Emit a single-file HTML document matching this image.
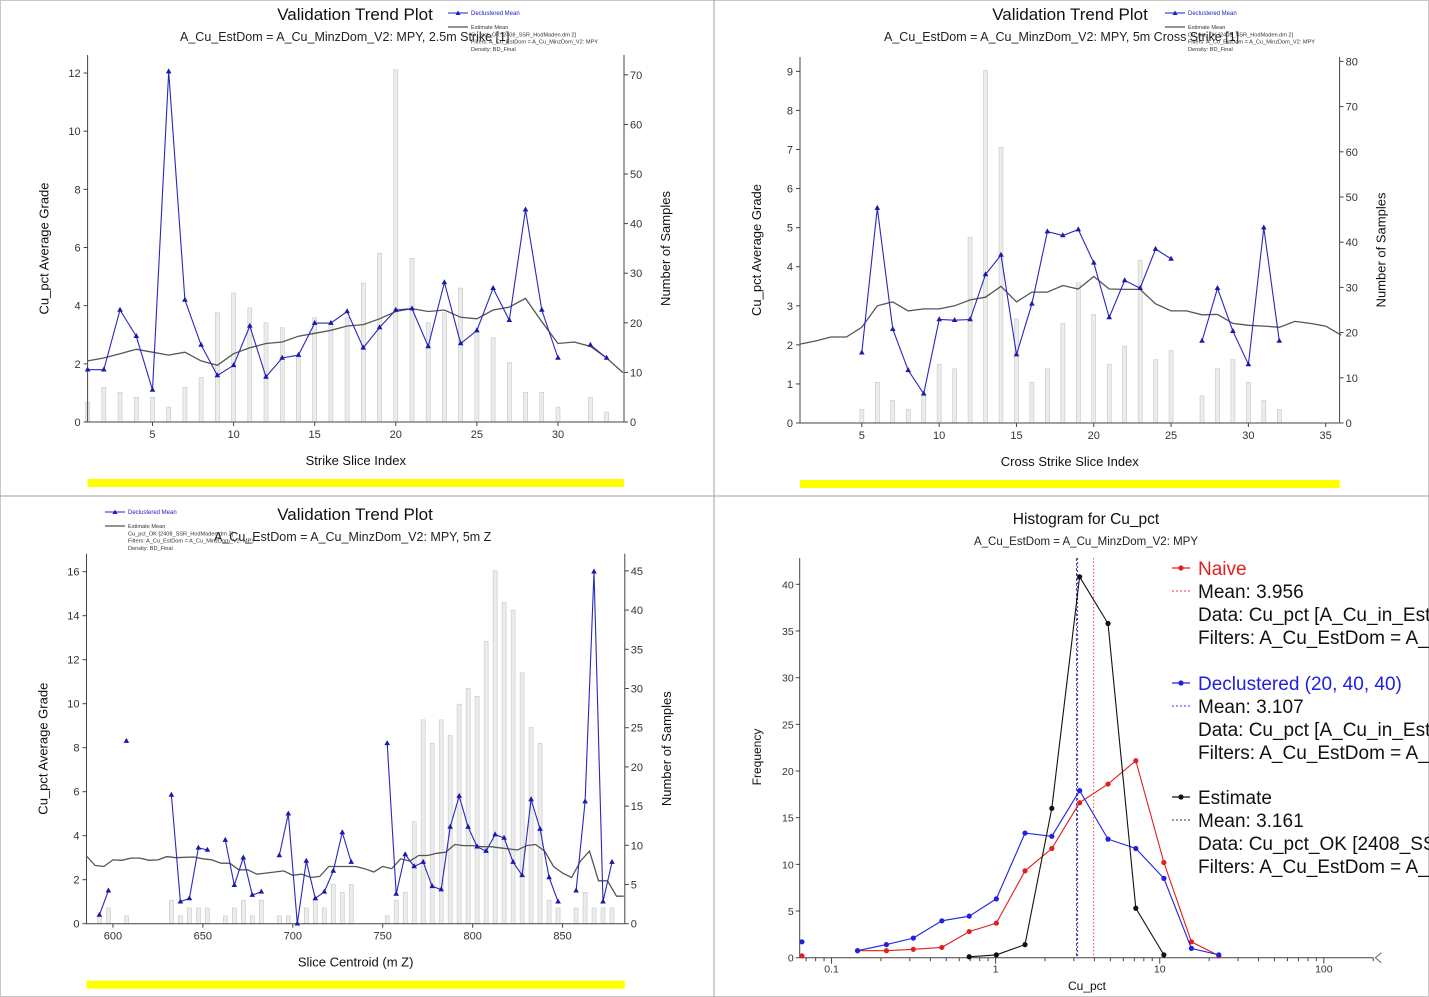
<!DOCTYPE html>
<html><head><meta charset="utf-8"><style>
html,body{margin:0;padding:0;background:#fff;}
svg{display:block;font-family:"Liberation Sans",sans-serif;}
</style></head><body>
<svg id="root" width="1429" height="997" viewBox="0 0 1429 997" xmlns="http://www.w3.org/2000/svg">
<rect x="0.5" y="0.5" width="1428" height="996" fill="#fff" stroke="#c8c8c8"/>
<line x1="714" y1="0" x2="714" y2="997" stroke="#a0a0a0"/>
<line x1="0" y1="496" x2="1429" y2="496" stroke="#a0a0a0"/>
<g id="p1"></g>
<g id="p2"></g>
<g id="p3"></g>
<g id="p4"></g>
</svg>
<script>
// ---- Panel 1: Strike ----
const p1Index=[1,2,3,4,5,6,7,8,9,10,11,12,13,14,15,16,17,18,19,20,21,22,23,24,25,26,27,28,29,30,31,32,33];
const p1Declus=[1.8,1.8,3.85,2.95,1.1,12.05,4.2,2.65,1.6,1.95,3.3,1.55,2.2,2.3,3.4,3.4,3.8,2.55,3.25,3.85,3.9,2.6,4.8,2.7,3.15,4.6,3.5,7.3,3.85,2.2,null,2.65,2.2];
const p1Counts=[4,7,6,5,5,3,7,9,22,26,23,20,19,13,21,20,21,28,34,71,33,20,22,27,18,17,12,6,6,3,0,5,2];
const p1EstIndex=[1,2,3,4,5,6,7,8,9,10,11,12,13,14,15,16,17,18,19,20,21,22,23,24,25,26,27,28,29,30,31,32,33,34];
const p1Est=[2.1,2.2,2.35,2.5,2.4,2.3,2.4,2.1,1.95,2.35,2.55,2.7,2.75,2.95,3.05,3.15,3.3,3.35,3.55,3.8,3.9,3.8,3.85,3.6,3.55,3.85,3.95,4.25,3.45,2.7,2.75,2.6,2.2,1.7];
const p1XTicks=[5,10,15,20,25,30];
const p1LTicks=[0,2,4,6,8,10,12];
const p1RTicks=[0,10,20,30,40,50,60,70];
// ---- Panel 2: Cross strike ----
const p2Index=[5,6,7,8,9,10,11,12,13,14,15,16,17,18,19,20,21,22,23,24,25,26,27,28,29,30,31,32];
const p2Declus=[1.8,5.5,2.4,1.35,0.75,2.65,2.63,2.65,3.8,4.3,1.75,3.05,4.9,4.8,4.95,4.1,2.7,3.65,3.45,4.45,4.2,null,2.1,3.45,2.35,1.5,5.0,2.1];
const p2Counts=[3,9,5,3,6,13,12,41,78,61,23,9,12,22,31,24,13,17,36,14,16,0,6,12,14,9,5,3];
const p2EstIndex=[1,2,3,4,5,6,7,8,9,10,11,12,13,14,15,16,17,18,19,20,21,22,23,24,25,26,27,28,29,30,31,32,33,34,35,36];
const p2Est=[2.02,2.1,2.2,2.2,2.45,3.0,3.1,2.87,2.92,2.92,3.0,3.15,3.22,3.5,3.1,3.35,3.35,3.52,3.43,3.75,3.43,3.42,3.42,3.05,2.87,2.87,2.77,2.78,2.55,2.5,2.48,2.45,2.6,2.55,2.48,2.25];
const p2XTicks=[5,10,15,20,25,30,35];
const p2LTicks=[0,1,2,3,4,5,6,7,8,9];
const p2RTicks=[0,10,20,30,40,50,60,70,80];
// ---- Panel 3: Z ----
const p3Z=[592.5,597.5,602.5,607.5,612.5,617.5,622.5,627.5,632.5,637.5,642.5,647.5,652.5,657.5,662.5,667.5,672.5,677.5,682.5,687.5,692.5,697.5,702.5,707.5,712.5,717.5,722.5,727.5,732.5,737.5,742.5,747.5,752.5,757.5,762.5,767.5,772.5,777.5,782.5,787.5,792.5,797.5,802.5,807.5,812.5,817.5,822.5,827.5,832.5,837.5,842.5,847.5,852.5,857.5,862.5,867.5,872.5,877.5];
const p3Declus=[0.4,1.5,null,8.3,null,null,null,null,5.85,1.0,1.15,3.45,3.35,null,3.8,1.75,3.0,1.3,1.45,null,3.1,5.0,0.0,2.85,1.15,1.45,2.4,4.15,2.8,null,null,null,8.2,1.35,3.15,2.6,2.8,1.7,1.55,4.4,5.8,4.4,3.5,3.3,4.05,3.9,2.8,2.2,5.65,4.3,2.1,1.0,null,1.5,5.55,16.0,1.0,2.8];
const p3Counts=[1,2,0,1,0,0,0,0,3,1,2,2,2,0,1,2,3,1,3,0,1,1,0,2,3,2,5,4,5,0,0,0,1,3,4,13,26,23,26,24,28,30,29,36,45,41,40,32,25,23,3,2,0,2,4,2,2,2];
const p3EstZ=[585,590,595,600,605,610,615,620,625,630,635,640,645,650,655,660,665,670,675,680,685,690,695,700,705,710,715,720,725,730,735,740,745,750,755,760,765,770,775,780,785,790,795,800,805,810,815,820,825,830,835,840,845,850,855,860,865,870,875,880,884];
const p3Est=[3.1,2.65,2.6,2.9,2.88,2.98,2.98,2.88,2.9,3.05,3.0,3.02,3.03,2.95,2.9,2.75,2.75,2.45,2.45,2.25,2.3,2.35,2.4,2.2,2.25,2.1,2.15,2.6,2.6,2.6,2.6,2.5,2.35,2.6,2.5,2.95,2.85,3.1,3.1,3.2,3.25,3.6,3.55,3.55,3.5,3.5,3.45,3.4,3.35,3.55,3.6,3.3,2.6,2.3,2.1,2.85,3.3,1.95,1.95,1.25,1.25];
const p3XTicks=[600,650,700,750,800,850];
const p3LTicks=[0,2,4,6,8,10,12,14,16];
const p3RTicks=[0,5,10,15,20,25,30,35,40,45];
// ---- Panel 4: Histogram ----
const hBins=[0.066,0.097,0.144,0.216,0.315,0.47,0.69,1.01,1.51,2.2,3.25,4.84,7.15,10.6,15.6,22.9];
const hNaive=[0.2,null,0.75,0.75,0.9,1.1,2.8,3.7,9.3,11.7,16.6,18.6,21.1,10.2,1.7,0.2];
const hDeclus=[1.7,null,0.75,1.4,2.1,3.95,4.45,6.3,13.35,13.0,17.9,12.7,11.7,8.5,1.0,0.3];
const hEstimate=[null,null,null,null,null,null,0.1,0.3,1.4,16.0,40.8,35.8,5.3,0.3,null,null];
const hMeans=[3.956,3.107,3.161];
const hYTicks=[0,5,10,15,20,25,30,35,40];
const hXTicks=[0.1,1,10,100];

const NS="http://www.w3.org/2000/svg";
function mk(parent,tag,attrs,text){const e=document.createElementNS(NS,tag);for(const k in attrs)e.setAttribute(k,attrs[k]);if(text!==undefined)e.textContent=text;parent.appendChild(e);return e;}

function legendSmall(g,lx,ly,line2){
  let e=mk(g,'line',{x1:lx,y1:ly,x2:lx+20,y2:ly,stroke:'#2020c0','stroke-width':1});
  
  
  e=mk(g,'path',{d:`M${lx+10},${ly-2.5} l2.5,4.5 h-5 z`,fill:'#2020c0'});
  
  
  e=mk(g,'text',{x:lx+23,y:ly+2,'font-size':6,fill:'#2020c0'},'Declustered Mean');
  
  
  e=mk(g,'line',{x1:lx,y1:ly+14,x2:lx+20,y2:ly+14,stroke:'#555','stroke-width':1.2});
  
  
  const lines=['Estimate Mean',line2,'Filters: A_Cu_EstDom = A_Cu_MinzDom_V2: MPY','Density: BD_Final'];
  lines.forEach((t,i)=>{
    const tx=mk(g,'text',{x:lx+23,y:ly+16+i*7.3,'font-size':5.6,fill:'#333'},t);
    
    
  });
}

function trendPanel(g,c){
  const sx=v=>c.px0+(v-c.d0)/(c.d1-c.d0)*(c.px1-c.px0);
  const yL=v=>c.yb-v*c.kL;
  const yR=v=>c.yb-v*c.kR;
  let e;
  e=mk(g,'text',{x:c.tx,y:c.ty,'font-size':17,'text-anchor':'middle',fill:'#111'},'Validation Trend Plot');
  
  
  e=mk(g,'text',{x:c.sx,y:c.sy,'font-size':12.5,fill:'#222'},c.sub);
  
  
  legendSmall(g,c.lx,c.ly,c.lline2);
  c.bx.forEach((x,i)=>{
    const v=c.bv[i]; if(!v) return;
    const b=mk(g,'rect',{x:sx(x)-2,y:yR(v),width:4,height:v*c.kR,fill:'#ececec',stroke:'#c6c6c6','stroke-width':0.6});
    
    
  });
  e=mk(g,'line',{x1:c.px0,y1:c.yt,x2:c.px0,y2:c.yb,stroke:'#444'});
  
  
  e=mk(g,'line',{x1:c.px1,y1:c.yt,x2:c.px1,y2:c.yb,stroke:'#444'});
  
  
  e=mk(g,'line',{x1:c.px0,y1:c.yb,x2:c.px1,y2:c.yb,stroke:'#444'});
  
  
  c.lt.forEach(v=>{
    let t=mk(g,'line',{x1:c.px0-4,y1:yL(v),x2:c.px0,y2:yL(v),stroke:'#444'});
    
    
    t=mk(g,'text',{x:c.px0-7,y:yL(v)+4,'font-size':11,'text-anchor':'end',fill:'#333'},String(v));
    
    
  });
  c.rt.forEach(v=>{
    let t=mk(g,'line',{x1:c.px1,y1:yR(v),x2:c.px1+4,y2:yR(v),stroke:'#444'});
    
    
    t=mk(g,'text',{x:c.px1+6,y:yR(v)+4,'font-size':11,fill:'#333'},String(v));
    
    
  });
  c.xt.forEach(v=>{
    let t=mk(g,'line',{x1:sx(v),y1:c.yb,x2:sx(v),y2:c.yb+4,stroke:'#444'});
    
    
    t=mk(g,'text',{x:sx(v),y:c.yb+16,'font-size':11,'text-anchor':'middle',fill:'#333'},String(v));
    
    
  });
  e=mk(g,'text',{x:(c.px0+c.px1)/2,y:c.yb+43,'font-size':13,'text-anchor':'middle',fill:'#111'},c.xlabel);
  
  
  const cy=(c.yt+c.yb)/2+10;
  e=mk(g,'text',{x:0,y:0,'font-size':13,'text-anchor':'middle',fill:'#111',transform:`translate(${c.px0-39},${cy}) rotate(-90)`},'Cu_pct Average Grade');
  
  
  e=mk(g,'text',{x:0,y:0,'font-size':13,'text-anchor':'middle',fill:'#111',transform:`translate(${c.px1+46},${cy}) rotate(-90)`},'Number of Samples');
  
  
  e=mk(g,'rect',{x:c.px0,y:c.yb+57,width:c.px1-c.px0,height:8,fill:'#ffff00'});
  
  
  let d='';c.ex.forEach((x,i)=>{d+=(i?'L':'M')+sx(x).toFixed(1)+','+yL(c.ev[i]).toFixed(1);});
  e=mk(g,'path',{d:d,fill:'none',stroke:'#555','stroke-width':1.3});
  
  
  d='';let pen=false;
  c.bx.forEach((x,i)=>{const v=c.dv[i];if(v===null){pen=false;return;}d+=(pen?'L':'M')+sx(x).toFixed(1)+','+yL(v).toFixed(1);pen=true;});
  e=mk(g,'path',{d:d,fill:'none',stroke:'#2828c0','stroke-width':1.1});
  
  
  c.bx.forEach((x,i)=>{const v=c.dv[i];if(v===null)return;
    const m=mk(g,'path',{d:`M${sx(x).toFixed(1)},${(yL(v)-3.2).toFixed(1)} l2.8,5 h-5.6 z`,fill:'#1a1aa8'});
    
    
  });
}

trendPanel(document.getElementById('p1'),{px0:87.6,px1:624,d0:1,d1:34.07,yb:422,yt:55,kL:29.08,kR:4.96,
  bx:p1Index,bv:p1Counts,dv:p1Declus,ex:p1EstIndex,ev:p1Est,xt:p1XTicks,lt:p1LTicks,rt:p1RTicks,
  xlabel:'Strike Slice Index',tx:355,ty:20,sx:180,sy:41,sub:'A_Cu_EstDom = A_Cu_MinzDom_V2: MPY, 2.5m Strike [1]',
  lx:448,ly:13,lline2:'Cu_pct_OK [2408_SSR_HodMaden.dm 2]'});
trendPanel(document.getElementById('p2'),{px0:800,px1:1339.6,d0:1,d1:35.9,yb:423,yt:57,kL:39.07,kR:4.52,
  bx:p2Index,bv:p2Counts,dv:p2Declus,ex:p2EstIndex,ev:p2Est,xt:p2XTicks,lt:p2LTicks,rt:p2RTicks,
  xlabel:'Cross Strike Slice Index',tx:1070,ty:20,sx:884,sy:41,sub:'A_Cu_EstDom = A_Cu_MinzDom_V2: MPY, 5m Cross Strike [1]',
  lx:1165,ly:13,lline2:'Cu_pct_OK [2408_SSR_HodMaden.dm 2]'});
trendPanel(document.getElementById('p3'),{px0:86.5,px1:624.8,d0:585.3,d1:884.6,yb:923.7,yt:553.7,kL:22,kR:7.84,
  bx:p3Z,bv:p3Counts,dv:p3Declus,ex:p3EstZ,ev:p3Est,xt:p3XTicks,lt:p3LTicks,rt:p3RTicks,
  xlabel:'Slice Centroid (m Z)',tx:355,ty:520,sx:214,sy:541,sub:'A_Cu_EstDom = A_Cu_MinzDom_V2: MPY, 5m Z',
  lx:105,ly:512,lline2:'Cu_pct_OK [2408_SSR_HodMaden.dm 2]'});

(function(){
  const g=document.getElementById('p4');
  const X0=799.7,X1=1373.4,L0=-1.194,L1=2.302,YB=957.7,YT=558,K=9.335;
  const sx=v=>X0+(Math.log10(v)-L0)/(L1-L0)*(X1-X0);
  const sy=v=>YB-v*K;
  let e;
  e=mk(g,'text',{x:1086,y:524,'font-size':15.5,'text-anchor':'middle',fill:'#111'},'Histogram for Cu_pct');
  
  
  e=mk(g,'text',{x:1086,y:545,'font-size':11.5,'text-anchor':'middle',fill:'#222'},'A_Cu_EstDom = A_Cu_MinzDom_V2: MPY');
  
  
  e=mk(g,'line',{x1:X0,y1:YT,x2:X0,y2:YB,stroke:'#444'});
  
  
  e=mk(g,'line',{x1:X0,y1:YB,x2:X1,y2:YB,stroke:'#444'});
  
  
  e=mk(g,'path',{d:`M${X1+8},${YB-5} L${X1+2},${YB} L${X1+8},${YB+5}`,fill:'none',stroke:'#666'});
  
  
  hYTicks.forEach(v=>{
    let t=mk(g,'line',{x1:X0-4,y1:sy(v),x2:X0,y2:sy(v),stroke:'#444'});
    
    
    t=mk(g,'text',{x:X0-6,y:sy(v)+4,'font-size':10.5,'text-anchor':'end',fill:'#333'},String(v));
    
    
  });
  for(let dec=-2;dec<=2;dec++){for(let m=1;m<10;m++){const v=m*Math.pow(10,dec);const lv=Math.log10(v);if(lv<L0||lv>L1)continue;
    const t=mk(g,'line',{x1:sx(v),y1:YB,x2:sx(v),y2:YB+(m===1?6:3.5),stroke:'#444'});
    
    }}
  hXTicks.forEach(v=>{
    const t=mk(g,'text',{x:sx(v),y:YB+15,'font-size':10.5,'text-anchor':'middle',fill:'#333'},String(v));
    
    
  });
  e=mk(g,'text',{x:1087,y:990,'font-size':12,'text-anchor':'middle',fill:'#111'},'Cu_pct');
  
  
  e=mk(g,'text',{x:0,y:0,'font-size':12,'text-anchor':'middle',fill:'#111',transform:'translate(761,757) rotate(-90)'},'Frequency');
  
  
  const cols=['#e02020','#2020e0','#111'];
  const meanCols=['#ff3030','#3030ff','#333'];
  const dashes=['1.5,2','3,2','2,2'];
  [2,1,0].forEach(i=>{
    const l=mk(g,'line',{x1:sx(hMeans[i]),y1:YT,x2:sx(hMeans[i]),y2:YB,stroke:meanCols[i],'stroke-width':0.9,'stroke-dasharray':dashes[i]});
    
    
  });
  [[hNaive,'naive'],[hDeclus,'declustered'],[hEstimate,'estimate']].forEach(([arr,nm],si)=>{
    let d='',pen=false;
    hBins.forEach((x,i)=>{const v=arr[i];if(v===null){pen=false;return;}d+=(pen?'L':'M')+sx(x).toFixed(1)+','+sy(v).toFixed(1);pen=true;});
    const p=mk(g,'path',{d:d,fill:'none',stroke:cols[si],'stroke-width':1.1});
    
    
    hBins.forEach((x,i)=>{const v=arr[i];if(v===null)return;
      const c=mk(g,'circle',{cx:sx(x),cy:sy(v),r:2.6,fill:cols[si]});
      
      });
  });
  const groups=[
    ['Naive','Mean: 3.956','Data: Cu_pct [A_Cu_in_EstDom]','Filters: A_Cu_EstDom = A_Cu_MinzDom_V2'],
    ['Declustered (20, 40, 40)','Mean: 3.107','Data: Cu_pct [A_Cu_in_EstDom]','Filters: A_Cu_EstDom = A_Cu_MinzDom_V2'],
    ['Estimate','Mean: 3.161','Data: Cu_pct_OK [2408_SSR_HodMaden.dm 2]','Filters: A_Cu_EstDom = A_Cu_MinzDom_V2']];
  const gy=[568,683,797];
  groups.forEach((lines,gi)=>{
    const y0=gy[gi];
    let l=mk(g,'line',{x1:1172,y1:y0,x2:1190,y2:y0,stroke:cols[gi],'stroke-width':1.2});
    
    
    l=mk(g,'circle',{cx:1181,cy:y0,r:2.6,fill:cols[gi]});
    
    
    l=mk(g,'line',{x1:1172,y1:y0+23,x2:1190,y2:y0+23,stroke:meanCols[gi],'stroke-width':0.9,'stroke-dasharray':'2,2'});
    
    
    lines.forEach((t,li)=>{
      const tx=mk(g,'text',{x:1198,y:y0+7+li*23,'font-size':19,fill:li===0&&gi<2?cols[gi]:'#111'},t);
      
      
    });
  });
})();
</script>
</body></html>
